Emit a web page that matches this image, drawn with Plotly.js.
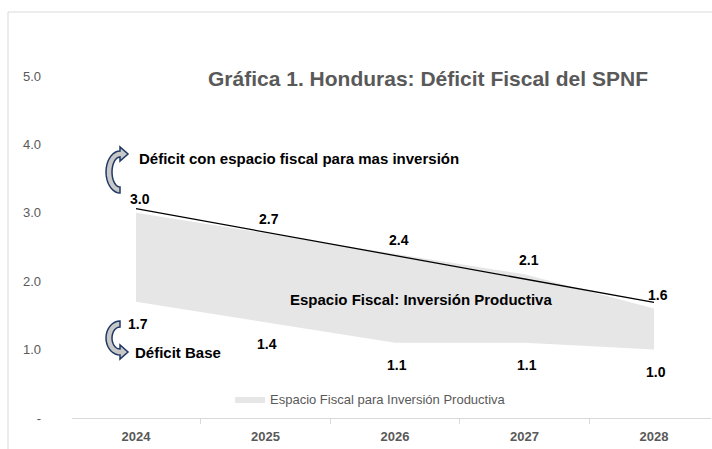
<!DOCTYPE html>
<html>
<head>
<meta charset="utf-8">
<script src="https://cdn.plot.ly/plotly-3.0.1.min.js"></script>
<style>html,body{margin:0;padding:0;background:#fff;}#chart{width:712px;height:449px;}</style>
</head>
<body>
<div id="chart"></div>
<script>
// ---- data ----
const categories = ['2024', '2025', '2026', '2027', '2028'];
const deficitBase = [1.7, 1.4, 1.1, 1.1, 1.0];
const deficitConEspacio = [3.0, 2.7, 2.4, 2.1, 1.6];
const trendLineCats = ['2024', '2028'];
const trendLineValues = [3.06, 1.69];
const yTickVals = [0, 1, 2, 3, 4, 5];
const yTickText = ['-', '1.0', '2.0', '3.0', '4.0', '5.0'];
const legendName = 'Espacio Fiscal para Inversión Productiva';

// ---- layout helpers ----
const W = 712, H = 449;
const M = {l: 72, r: 1, t: 76, b: 31};
const PW = W - M.l - M.r, PH = H - M.t - M.b;
const fx = x => (x - M.l) / PW;
const fy = y => (H - M.b - y) / PH;
const FONT = '"Liberation Sans Narrow", "Arial Narrow", "Liberation Sans", Arial, sans-serif';

function arrowPath(cx, cy, rx, ry, t, h, L, headAtTop) {
  const s = headAtTop ? 1 : -1;
  const pts = [];
  for (let a = 90; a <= 270; a += 10) {
    const r = a * Math.PI / 180;
    pts.push([cx + rx * Math.cos(r), cy + s * ry * Math.sin(r)]);
  }
  pts.push([cx, cy - s * (ry + h)]);
  pts.push([cx + L, cy - s * (ry - t / 2)]);
  pts.push([cx, cy - s * (ry - t - h)]);
  for (let a = 270; a >= 90; a -= 10) {
    const r = a * Math.PI / 180;
    pts.push([cx + (rx - t) * Math.cos(r), cy + s * (ry - t) * Math.sin(r)]);
  }
  return 'M ' + pts.map(p => fx(p[0]).toFixed(5) + ',' + fy(p[1]).toFixed(5)).join(' L ') + ' Z';
}

const traces = [
  {x: categories, y: deficitBase, type: 'scatter', mode: 'lines',
   line: {width: 0, color: 'rgba(0,0,0,0)'}, showlegend: false, hoverinfo: 'skip'},
  {x: categories, y: deficitConEspacio, type: 'scatter', mode: 'lines', name: legendName,
   fill: 'tonexty', fillcolor: '#e6e6e6', line: {width: 0, color: '#e6e6e6'}, showlegend: true},
  {x: trendLineCats, y: trendLineValues, type: 'scatter', mode: 'lines',
   line: {width: 1.3, color: '#000000'}, showlegend: false}
];

const labelFont = {family: FONT, size: 14, color: '#000', weight: 'bold'};
const annotations = [];
deficitConEspacio.forEach((v, i) => annotations.push({
  x: categories.indexOf(categories[i]), y: v, xref: 'x', yref: 'y', text: v.toFixed(1), showarrow: false,
  yshift: 14, xshift: 4, font: labelFont
}));
deficitBase.forEach((v, i) => annotations.push({
  x: categories.indexOf(categories[i]), y: v, xref: 'x', yref: 'y', text: v.toFixed(1), showarrow: false,
  yshift: -22, xshift: 2, font: labelFont
}));
annotations.push(
  {xref: 'paper', yref: 'paper', x: fx(428), y: fy(78), text: 'Gráfica 1. Honduras: Déficit Fiscal del SPNF',
   showarrow: false, xanchor: 'center', yanchor: 'middle', font: {family: FONT, size: 21, color: '#595959', weight: 'bold'}},
  {xref: 'paper', yref: 'paper', x: fx(137), y: fy(158), text: 'Déficit con espacio fiscal para mas inversión',
   showarrow: false, xanchor: 'left', yanchor: 'middle', font: {family: FONT, size: 15, color: '#000', weight: 'bold'}},
  {xref: 'paper', yref: 'paper', x: fx(421), y: fy(299), text: 'Espacio Fiscal: Inversión Productiva',
   showarrow: false, xanchor: 'center', yanchor: 'middle', font: {family: FONT, size: 15, color: '#000', weight: 'bold'}},
  {xref: 'paper', yref: 'paper', x: fx(133), y: fy(352), text: 'Déficit Base',
   showarrow: false, xanchor: 'left', yanchor: 'middle', font: {family: FONT, size: 15, color: '#000', weight: 'bold'}}
);

const shapes = [
  {type: 'line', xref: 'paper', yref: 'paper', x0: fx(8), x1: fx(720), y0: fy(12), y1: fy(12), line: {color: '#d9d9d9', width: 1}},
  {type: 'line', xref: 'paper', yref: 'paper', x0: fx(8), x1: fx(8), y0: fy(12), y1: fy(460), line: {color: '#d9d9d9', width: 1}},
  {type: 'path', xref: 'paper', yref: 'paper', path: arrowPath(120, 172, 14, 21, 6, 4, 8, true),
   fillcolor: '#c8c8c8', line: {color: '#1f3864', width: 1.5}},
  {type: 'path', xref: 'paper', yref: 'paper', path: arrowPath(120, 338, 14, 17, 6, 4, 8, false),
   fillcolor: '#c8c8c8', line: {color: '#1f3864', width: 1.5}}
];

const layout = {
  width: W, height: H, margin: M,
  paper_bgcolor: '#ffffff', plot_bgcolor: '#ffffff',
  font: {family: FONT, color: '#595959'},
  xaxis: {type: 'category', categoryarray: categories, range: [-0.494, 4.44],
    showgrid: false, zeroline: false, showline: true, linecolor: '#d9d9d9', linewidth: 1,
    ticks: 'outside', tickson: 'boundaries', ticklen: 5, tickcolor: '#d9d9d9',
    tickfont: {family: FONT, size: 13, color: '#595959', weight: 'bold'}, ticklabelstandoff: 6, fixedrange: true},
  yaxis: {range: [0, 5], tickvals: yTickVals, ticktext: yTickText, showgrid: false, zeroline: false,
    showline: false, ticks: '', tickfont: {family: FONT, size: 13, color: '#595959'}, ticklabelstandoff: 30, fixedrange: true},
  showlegend: true,
  legend: {orientation: 'h', x: fx(230), y: fy(399), xanchor: 'left', yanchor: 'middle',
    font: {family: FONT, size: 13, color: '#595959'}, bgcolor: 'rgba(0,0,0,0)', itemwidth: 30},
  annotations: annotations,
  shapes: shapes
};

Plotly.newPlot('chart', traces, layout, {displayModeBar: false, staticPlot: true});
</script>
</body>
</html>
